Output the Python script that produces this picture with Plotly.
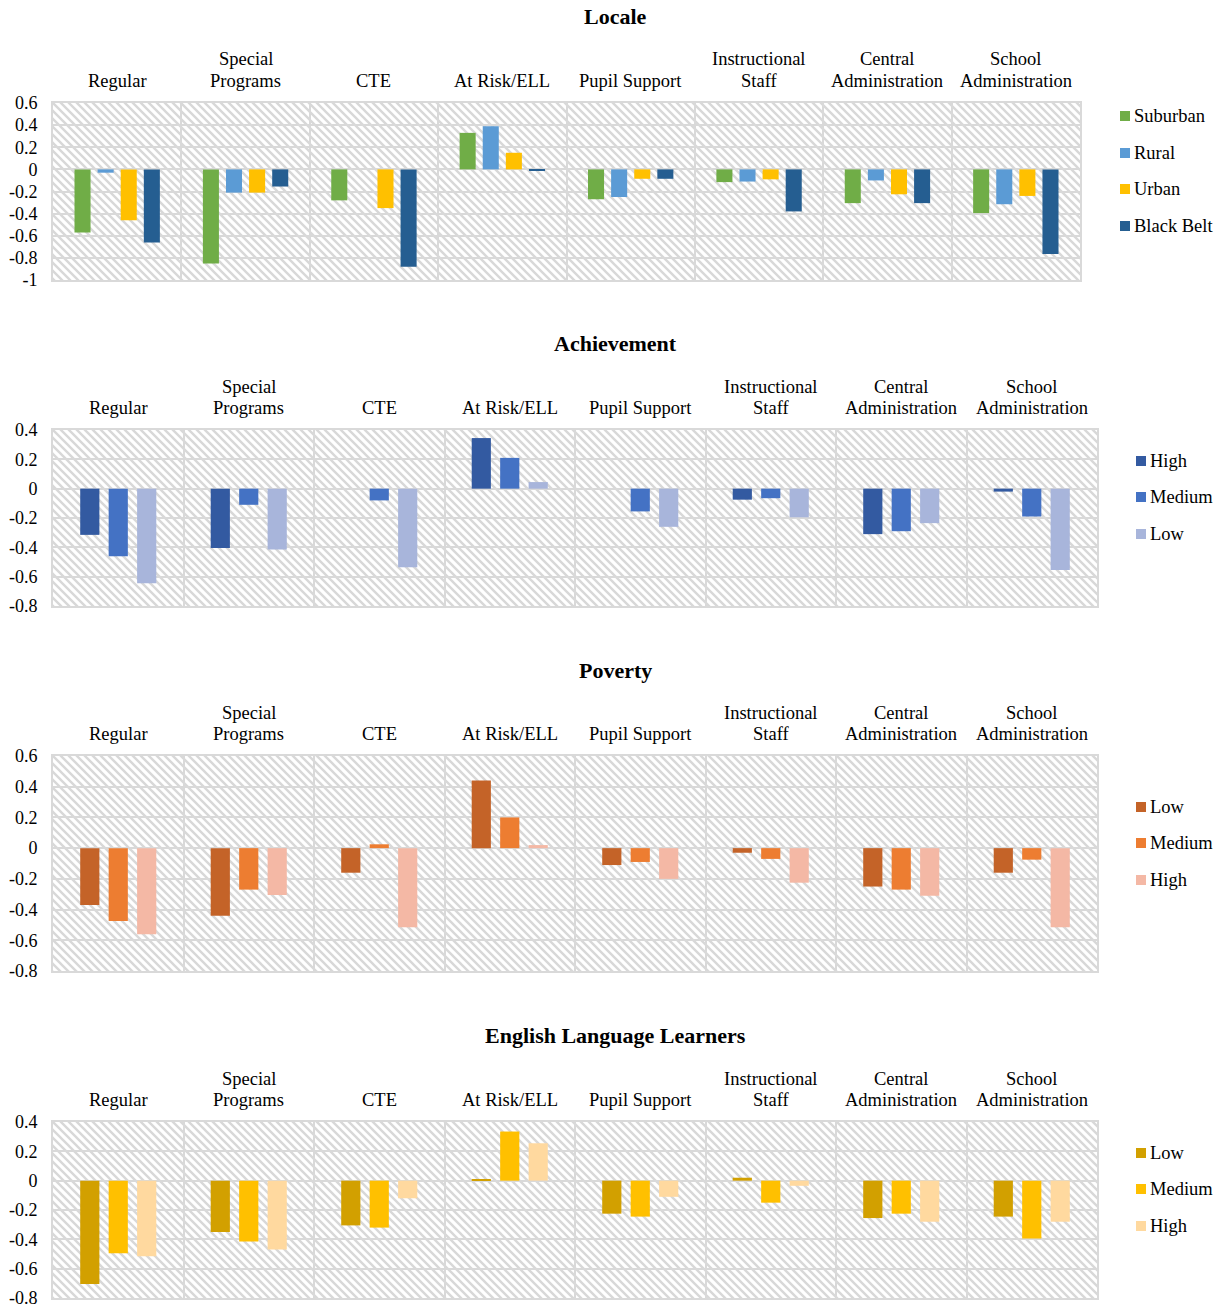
import base64
import numpy as np
import plotly.graph_objects as go

# ---- data -------------------------------------------------------------
categories = ["Regular", "Special Programs", "CTE", "At Risk/ELL", "Pupil Support",
              "Instructional Staff", "Central Administration", "School Administration"]
category_labels = ["Regular", "Special<br>Programs", "CTE", "At Risk/ELL", "Pupil Support",
                   "Instructional<br>Staff", "Central<br>Administration", "School<br>Administration"]

locale_suburban = [-0.57, -0.85, -0.28, 0.33, -0.27, -0.115, -0.305, -0.395]
locale_rural = [-0.03, -0.21, None, 0.39, -0.25, -0.11, -0.10, -0.315]
locale_urban = [-0.46, -0.21, -0.35, 0.15, -0.085, -0.09, -0.225, -0.24]
locale_black_belt = [-0.66, -0.155, -0.88, -0.01, -0.085, -0.38, -0.305, -0.765]

achievement_high = [-0.315, -0.405, None, 0.345, None, -0.075, -0.31, -0.02]
achievement_medium = [-0.46, -0.11, -0.08, 0.21, -0.155, -0.065, -0.29, -0.19]
achievement_low = [-0.645, -0.415, -0.535, 0.045, -0.26, -0.195, -0.235, -0.555]

poverty_low = [-0.37, -0.44, -0.16, 0.44, -0.11, -0.03, -0.25, -0.16]
poverty_medium = [-0.475, -0.27, 0.025, 0.20, -0.09, -0.07, -0.27, -0.075]
poverty_high = [-0.56, -0.305, -0.515, 0.02, -0.20, -0.225, -0.31, -0.515]

ell_low = [-0.705, -0.35, -0.305, 0.01, -0.225, 0.02, -0.255, -0.245]
ell_medium = [-0.495, -0.415, -0.32, 0.335, -0.245, -0.15, -0.225, -0.395]
ell_high = [-0.515, -0.47, -0.12, 0.255, -0.11, -0.035, -0.28, -0.28]

# ---- figure geometry (pixels) ----------------------------------------
W, H = 1223, 1307
FONT = "Liberation Serif, Times New Roman, serif"
GRID = "#d9d9d9"

panels = [
    dict(title="Locale", title_y=17, top=103, bottom=280, left=53, right=1080,
         yrange=(-1.0, 0.6), bar_w=0.125, pitch=0.18,
         legend_x=1120, legend_rows=[116, 153, 189, 226],
         series=[("Suburban", locale_suburban, "#70AD47"),
                 ("Rural", locale_rural, "#5B9BD5"),
                 ("Urban", locale_urban, "#FFC000"),
                 ("Black Belt", locale_black_belt, "#255E91")]),
    dict(title="Achievement", title_y=343, top=430, bottom=606, left=53, right=1097,
         yrange=(-0.8, 0.4), bar_w=0.147, pitch=0.218,
         legend_x=1136, legend_rows=[461, 497, 534],
         series=[("High", achievement_high, "#335AA1"),
                 ("Medium", achievement_medium, "#4472C4"),
                 ("Low", achievement_low, "#A8B5DB")]),
    dict(title="Poverty", title_y=670, top=756, bottom=971, left=53, right=1097,
         yrange=(-0.8, 0.6), bar_w=0.147, pitch=0.218,
         legend_x=1136, legend_rows=[807, 843, 880],
         series=[("Low", poverty_low, "#C46328"),
                 ("Medium", poverty_medium, "#ED7D31"),
                 ("High", poverty_high, "#F4B8A5")]),
    dict(title="English Language Learners", title_y=1035, top=1122, bottom=1298, left=53,
         right=1097, yrange=(-0.8, 0.4), bar_w=0.147, pitch=0.218,
         legend_x=1136, legend_rows=[1153, 1189, 1226],
         series=[("Low", ell_low, "#D2A000"),
                 ("Medium", ell_medium, "#FFC000"),
                 ("High", ell_high, "#FFD99F")]),
]


def hatch_svg(w, h):
    """Downward-diagonal hatch used as the plot-area background."""
    svg = (
        f'<svg xmlns="http://www.w3.org/2000/svg" width="{w}" height="{h}" '
        f'viewBox="0 0 {w} {h}">'
        '<defs><pattern id="p" width="8" height="8" patternUnits="userSpaceOnUse">'
        '<rect width="8" height="8" fill="#ffffff"/>'
        '<path d="M-2,-2 L10,10 M-2,6 L2,10 M6,-2 L10,2" stroke="#d8d8d8" stroke-width="2.4"/>'
        '</pattern></defs>'
        f'<rect width="{w}" height="{h}" fill="url(#p)"/></svg>'
    )
    return "data:image/svg+xml;base64," + base64.b64encode(svg.encode()).decode()


def px_y(y):
    return 1 - y / H


fig = go.Figure()
layout = dict(
    width=W, height=H, margin=dict(l=0, r=0, t=0, b=0, autoexpand=False),
    paper_bgcolor="white", plot_bgcolor="rgba(0,0,0,0)", showlegend=False,
    barmode="overlay", font=dict(family=FONT, size=18, color="black"),
    images=[], annotations=[], shapes=[],
)

for k, p in enumerate(panels, start=1):
    sfx = "" if k == 1 else str(k)
    xd = [p["left"] / W, p["right"] / W]
    yd = [px_y(p["bottom"]), px_y(p["top"])]

    n = len(p["series"])
    for i, (name, vals, color) in enumerate(p["series"]):
        offset = -n * p["pitch"] / 2 + i * p["pitch"] + (p["pitch"] - p["bar_w"]) / 2
        fig.add_trace(go.Bar(
            x=categories, y=vals, name=name,
            xaxis=f"x{sfx}", yaxis=f"y{sfx}",
            width=p["bar_w"], offset=offset,
            marker=dict(color=color, line=dict(width=0)),
            hoverinfo="x+y+name",
        ))

        # legend entry: colour key plus label
        row_y = p["legend_rows"][i]
        layout["shapes"].append(dict(
            type="rect", xref="paper", yref="paper", layer="above",
            x0=p["legend_x"] / W, x1=(p["legend_x"] + 10) / W,
            y0=px_y(row_y + 5), y1=px_y(row_y - 5),
            fillcolor=color, line=dict(width=0),
        ))
        layout["annotations"].append(dict(
            text=name, xref="paper", yref="paper",
            x=(p["legend_x"] + 12) / W, y=px_y(row_y), xanchor="left", yanchor="middle",
            showarrow=False, font=dict(family=FONT, size=18.5, color="black"),
        ))

    lo, hi = p["yrange"]
    tickvals = [round(v, 1) + 0.0 for v in np.arange(lo, hi + 0.001, 0.2)]
    ticktext = [f"{v:g}" for v in tickvals]

    layout[f"xaxis{sfx}"] = dict(
        domain=xd, anchor=f"y{sfx}", type="category", side="top",
        categoryorder="array", categoryarray=categories,
        tickvals=categories, showticklabels=False,
        tickson="boundaries", range=[-0.5, len(categories) - 0.5],
        showgrid=True, gridcolor=GRID, gridwidth=1.6,
        showline=True, mirror=True, linecolor=GRID, linewidth=1.6,
        ticks="", automargin=False, fixedrange=True,
    )
    layout[f"yaxis{sfx}"] = dict(
        domain=yd, anchor=f"x{sfx}", range=[lo, hi],
        tickvals=tickvals, ticktext=ticktext,
        showgrid=True, gridcolor=GRID, gridwidth=1.6, zeroline=False,
        showline=True, mirror=True, linecolor=GRID, linewidth=1.6,
        ticks="outside", ticklen=10, tickcolor="rgba(0,0,0,0)",
        tickfont=dict(family=FONT, size=18, color="black"),
        ticklabeloverflow="allow", automargin=False, fixedrange=True,
    )

    # category headings above each plot, one annotation per text line
    for cat, label in zip(categories, category_labels):
        lines = label.split("<br>")
        offsets = [22] if len(lines) == 1 else [43.5, 22]
        for line, off in zip(lines, offsets):
            layout["annotations"].append(dict(
                text=line, xref=f"x{sfx}", yref="paper", x=cat,
                y=px_y(p["top"] - off), xanchor="center", yanchor="middle",
                showarrow=False, font=dict(family=FONT, size=18.5, color="black"),
            ))

    layout["images"].append(dict(
        source=hatch_svg(p["right"] - p["left"], p["bottom"] - p["top"]),
        xref="paper", yref="paper", x=xd[0], y=yd[1],
        sizex=xd[1] - xd[0], sizey=yd[1] - yd[0],
        xanchor="left", yanchor="top", sizing="stretch", layer="below",
    ))
    layout["annotations"].append(dict(
        text=f"<b>{p['title']}</b>", xref="paper", yref="paper",
        x=615 / W, y=px_y(p["title_y"]), xanchor="center", yanchor="middle",
        showarrow=False, font=dict(family=FONT, size=22, color="black"),
    ))

fig.update_layout(**layout)
fig.write_html("out.html")
